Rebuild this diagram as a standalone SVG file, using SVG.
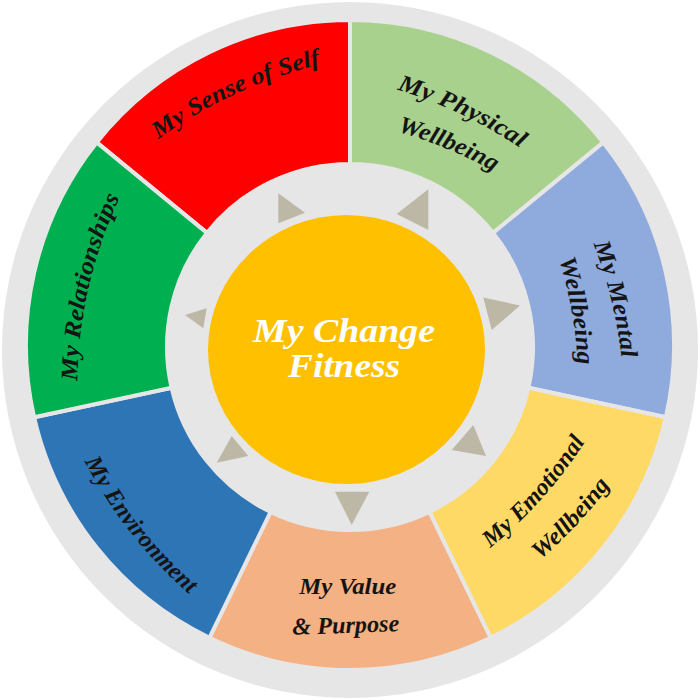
<svg xmlns="http://www.w3.org/2000/svg" width="700" height="700" viewBox="0 0 700 700">
<style>
.seg{stroke:#E7E6E6;stroke-width:4;stroke-linejoin:miter}
.lbl{font-family:"Liberation Serif","Times New Roman",serif;font-weight:bold;font-style:italic;font-size:24px;fill:#141414}
.ctr{font-family:"Liberation Serif","Times New Roman",serif;font-weight:bold;font-style:italic;font-size:33px;fill:#ffffff}
.tri{fill:#BDB8A6}
</style>
<defs>
<path id="p-self" d="M96.3,193.9 A450,450 0 0 1 402.6,53"/>
<path id="p-phys1" d="M294.6,71.7 A450,450 0 0 1 599.3,216"/>
<path id="p-phys2" d="M278.5,114.5 A450,450 0 0 1 590,243.5"/>
<path id="p-ment1" d="M539.2,144 A450,450 0 0 1 619.6,471.5"/>
<path id="p-ment2" d="M509.9,151.2 A450,450 0 0 1 569,483.1"/>
<path id="p-emo1" d="M405.3,602.6 A450,450 0 0 0 629.6,350.9"/>
<path id="p-emo2" d="M438.3,625.2 A450,450 0 0 0 668.2,378.7"/>
<path id="p-env" d="M52.2,379.9 A450,450 0 0 0 260.6,644.8"/>
<path id="p-rel" d="M82.8,458.5 A450,450 0 0 1 158.7,130"/>
</defs>
<circle id="background" cx="350" cy="350" r="348" fill="#E7E6E6"/>

<g id="node-sense-of-self">
<path class="seg" fill="#FF0000" d="M206.9,232.9 L96.7,142.4 A324,325 0 0 1 350,20 L350,164 A183,183 0 0 0 206.9,232.9 Z"/>
<text class="lbl"><textPath href="#p-self" startOffset="50%" text-anchor="middle" textLength="180" lengthAdjust="spacingAndGlyphs">My Sense of Self</textPath></text>
</g>
<g id="node-physical">
<path class="seg" fill="#A9D18E" d="M350,164 L350,20 A324,325 0 0 1 603.3,142.4 L493.1,232.9 A183,183 0 0 0 350,164 Z"/>
<text class="lbl"><textPath href="#p-phys1" startOffset="50%" text-anchor="middle" textLength="137" lengthAdjust="spacingAndGlyphs">My Physical</textPath></text>
<text class="lbl"><textPath href="#p-phys2" startOffset="50%" text-anchor="middle" textLength="105" lengthAdjust="spacingAndGlyphs">Wellbeing</textPath></text>
</g>
<g id="node-mental">
<path class="seg" fill="#8FAADC" d="M493.1,232.9 L603.3,142.4 A324,325 0 0 1 665.9,417.3 L528.4,387.7 A183,183 0 0 0 493.1,232.9 Z"/>
<text class="lbl"><textPath href="#p-ment1" startOffset="50%" text-anchor="middle" textLength="118" lengthAdjust="spacingAndGlyphs">My Mental</textPath></text>
<text class="lbl"><textPath href="#p-ment2" startOffset="50%" text-anchor="middle" textLength="108" lengthAdjust="spacingAndGlyphs">Wellbeing</textPath></text>
</g>
<g id="node-emotional">
<path class="seg" fill="#FFD966" d="M528.4,387.7 L665.9,417.3 A324,325 0 0 1 490.6,637.8 L429.4,511.9 A183,183 0 0 0 528.4,387.7 Z"/>
<text class="lbl"><textPath href="#p-emo1" startOffset="50%" text-anchor="middle" textLength="143" lengthAdjust="spacingAndGlyphs">My Emotional</textPath></text>
<text class="lbl"><textPath href="#p-emo2" startOffset="50%" text-anchor="middle" textLength="103" lengthAdjust="spacingAndGlyphs">Wellbeing</textPath></text>
</g>
<g id="node-value">
<path class="seg" fill="#F4B183" d="M429.4,511.9 L490.6,637.8 A324,325 0 0 1 209.4,637.8 L270.6,511.9 A183,183 0 0 0 429.4,511.9 Z"/>
<text class="lbl" x="347.7" y="593.5" text-anchor="middle" textLength="97" lengthAdjust="spacingAndGlyphs">My Value</text>
<text class="lbl" x="346" y="633" text-anchor="middle" textLength="107" lengthAdjust="spacingAndGlyphs" transform="rotate(-2 346 633)">&amp; Purpose</text>
</g>
<g id="node-environment">
<path class="seg" fill="#2E75B6" d="M270.6,511.9 L209.4,637.8 A324,325 0 0 1 34.1,417.3 L171.6,387.7 A183,183 0 0 0 270.6,511.9 Z"/>
<text class="lbl"><textPath href="#p-env" startOffset="50%" text-anchor="middle" textLength="170" lengthAdjust="spacingAndGlyphs">My Environment</textPath></text>
</g>
<g id="node-relationships">
<path class="seg" fill="#00B050" d="M171.6,387.7 L34.1,417.3 A324,325 0 0 1 96.7,142.4 L206.9,232.9 A183,183 0 0 0 171.6,387.7 Z"/>
<text class="lbl"><textPath href="#p-rel" startOffset="50%" text-anchor="middle" textLength="190" lengthAdjust="spacingAndGlyphs">My Relationships</textPath></text>
</g>

<g id="connectors">
<polygon class="tri" points="278.3,193.3 305,212.7 278.3,223.3"/>
<polygon class="tri" points="428.3,189.3 396.7,214 428.3,230"/>
<polygon class="tri" points="483.3,297.5 520,305.5 491.7,330"/>
<polygon class="tri" points="473.3,425 486,456 451.7,450"/>
<polygon class="tri" points="335,491.7 369.3,491.7 351.7,525"/>
<polygon class="tri" points="231.7,436 248.3,456 216.7,462.7"/>
<polygon class="tri" points="185,315 206.7,308.3 203.3,328.3"/>
</g>

<g id="node-center">
<ellipse cx="346.5" cy="349.5" rx="138.5" ry="134.5" fill="#FFC000"/>
<text class="ctr" x="344" y="342" text-anchor="middle" textLength="182" lengthAdjust="spacingAndGlyphs">My Change</text>
<text class="ctr" x="344" y="377" text-anchor="middle" textLength="112" lengthAdjust="spacingAndGlyphs">Fitness</text>
</g>
</svg>
